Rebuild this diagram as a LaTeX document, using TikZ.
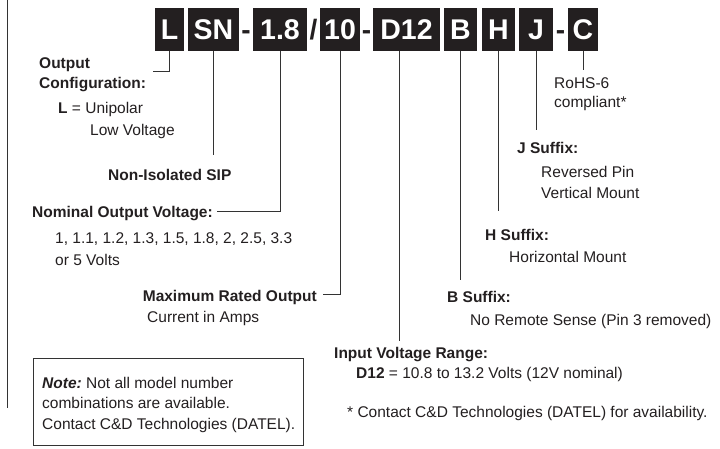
\documentclass[tikz,border=0pt]{standalone}
\usepackage{fontspec}
\setmainfont{Liberation Sans}
\definecolor{boxblack}{HTML}{231F20}
\definecolor{txt}{HTML}{231F20}
\definecolor{linec}{HTML}{333333}
\begin{document}
\begin{tikzpicture}[x=1pt,y=-1pt,
  code/.style={fill=boxblack,text=white,font=\fontsize{28.5}{28}\selectfont\bfseries,minimum height=43pt,inner sep=0pt,anchor=center},
  sepchar/.style={font=\fontsize{28}{28}\selectfont\bfseries,inner sep=0pt,text=boxblack,anchor=base},
  lbl/.style={font=\fontsize{15.5}{18}\selectfont,anchor=base west,inner sep=0pt,text=txt},
  blbl/.style={lbl,font=\fontsize{15.5}{18}\selectfont\bfseries},
  conn/.style={draw=linec,line width=1pt}]
\useasboundingbox (0,0) rectangle (720,449);
% code boxes
\node[code,minimum width=29pt] (L) at (169.5,29.5) {L};
\node[code,minimum width=51pt] (SN) at (213.5,29.5) {SN};
\node[sepchar] (d1) at (246,39.5) {-};
\node[code,minimum width=54pt] (V) at (280,29.5) {1.8};
\node[sepchar] (sl) at (313.5,39.5) {/};
\node[code,minimum width=40pt] (A) at (340,29.5) {10};
\node[sepchar] (d2) at (366.5,39.5) {-};
\node[code,minimum width=67pt] (D) at (406.5,29.5) {D12};
\node[code,minimum width=33pt] (B) at (460.5,29.5) {B};
\node[code,minimum width=33pt] (H) at (498.5,29.5) {H};
\node[code,minimum width=34pt] (J) at (536,29.5) {J};
\node[sepchar] (d3) at (560.5,39.5) {-};
\node[code,minimum width=30pt] (C) at (583,29.5) {C};
% frame line
\coordinate (f1) at (7,0);
\coordinate (f2) at (7,408);
\draw[conn] (f1) -- (f2);
% connector ends
\coordinate (Lend) at (153,72);
\coordinate (SNend) at (213.5,155);
\coordinate (Vend) at (217,212);
\coordinate (Aend) at (323,294);
\coordinate (Dend) at (399,341);
\coordinate (Bend) at (460.5,280);
\coordinate (Hend) at (498.5,211);
\coordinate (Jend) at (536,130);
\coordinate (Cend) at (583,70);
\draw[conn] (L.south) |- (Lend);
\draw[conn] (SN.south) -- (SNend);
\draw[conn] (V.south) |- (Vend);
\draw[conn] (A.south) |- (Aend);
\draw[conn] (Dend |- D.south) -- (Dend);
\draw[conn] (B.south) -- (Bend);
\draw[conn] (H.south) -- (Hend);
\draw[conn] (J.south) -- (Jend);
\draw[conn] (C.south) -- (Cend);
% left labels
\node[blbl] (t1) at (39,68.5) {Output};
\node[blbl] (t2) at (39,88.5) {Configuration:};
\node[lbl] (t3) at (58,113.5) {\textbf{L} = Unipolar};
\node[lbl] (t4) at (90,135.5) {Low Voltage};
\node[blbl] (t5) at (108,180.5) {Non-Isolated SIP};
\node[blbl] (t6) at (32,217.5) {Nominal Output Voltage:};
\node[lbl] (t7) at (55,243.5) {1, 1.1, 1.2, 1.3, 1.5, 1.8, 2, 2.5, 3.3};
\node[lbl] (t8) at (55,265.5) {or 5 Volts};
\node[blbl,anchor=base east] (t9) at (317,301.5) {Maximum Rated Output};
\node[lbl] (t10) at (147,322.5) {Current in Amps};
% note box
\node[draw=linec,line width=0.8pt,minimum width=270pt,minimum height=87pt,anchor=north west,inner sep=0pt] (note) at (33,358) {};
\node[lbl] (n1) at (42,388.5) {\textbf{\itshape Note:}\ Not all model number};
\node[lbl] (n2) at (42,408.5) {combinations are available.};
\node[lbl] (n3) at (42,429.5) {Contact C\&D Technologies (DATEL).};
% right labels
\node[lbl] (r1) at (554,88.5) {RoHS-6};
\node[lbl] (r2) at (554,107.5) {compliant*};
\node[blbl] (r3) at (517,153.5) {J Suffix:};
\node[lbl] (r4) at (541,177.5) {Reversed Pin};
\node[lbl] (r5) at (541,198.5) {Vertical Mount};
\node[blbl] (r6) at (485,240.5) {H Suffix:};
\node[lbl] (r7) at (509,262.5) {Horizontal Mount};
\node[blbl] (r8) at (447,302.5) {B Suffix:};
\node[lbl] (r9) at (470,325.5) {No Remote Sense (Pin 3 removed)};
\node[blbl] (r10) at (334,358) {Input Voltage Range:};
\node[lbl] (r11) at (356,378.5) {\textbf{D12} = 10.8 to 13.2 Volts (12V nominal)};
\node[lbl] (r12) at (347,417) {* Contact C\&D Technologies (DATEL) for availability.};
\end{tikzpicture}
\end{document}
